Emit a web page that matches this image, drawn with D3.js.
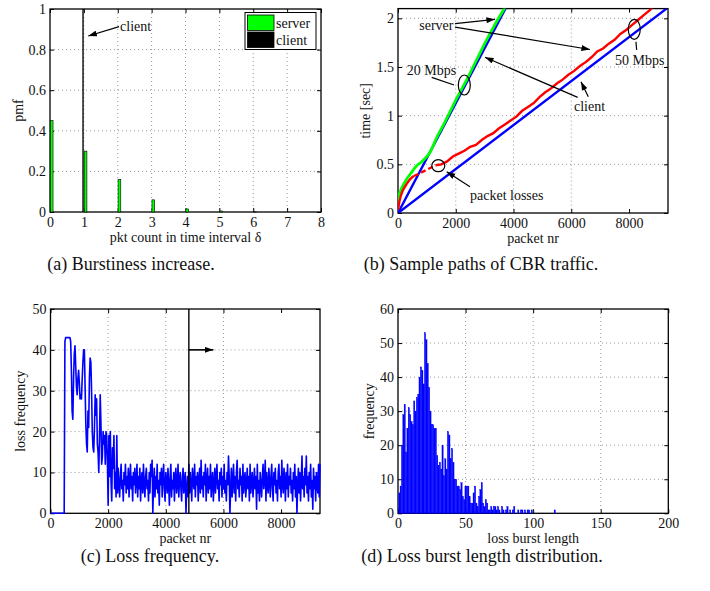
<!DOCTYPE html>
<html>
<head>
<meta charset="utf-8">
<script src="https://cdn.jsdelivr.net/npm/d3@7/dist/d3.min.js"></script>
<style>
  body { margin: 0; background: #fff; }
  text { font-family: "Liberation Serif", "Times New Roman", serif; fill: #111; }
</style>
</head>
<body>
<svg id="fig" width="710" height="591"></svg>
<script>
// ---- (a) pmf of packet count per interval
const pktCounts = [0, 1, 2, 3, 4, 5, 6, 7, 8];
const serverPmf = [0.45, 0.30, 0.16, 0.06, 0.015, 0.005, 0.001, 0, 0];
const clientPmf = [0, 1, 0, 0, 0, 0, 0, 0, 0];
const legendLabels = ["server", "client"];

// ---- (b) sample paths (packet nr, time in sec)
const client20 = [[0, 0], [3720, 2.1]];
const client50 = [[0, 0], [9300, 2.1]];
const server20 = [[0, 0.12], [50, 0.2], [120, 0.25], [200, 0.3], [300, 0.35], [400, 0.39], [500, 0.43],
  [600, 0.47], [700, 0.5], [800, 0.52], [900, 0.55], [1000, 0.58], [1100, 0.62], [1200, 0.68],
  [1300, 0.75], [1400, 0.81], [1600, 0.92], [1800, 1.04], [2000, 1.16], [2200, 1.27], [2400, 1.38],
  [2600, 1.5], [2800, 1.62], [3000, 1.74], [3200, 1.85], [3400, 1.96], [3600, 2.06], [3700, 2.11]];
const server50 = [[0, 0.03], [50, 0.12], [100, 0.18], [150, 0.22], [200, 0.25], [300, 0.3], [400, 0.34],
  [500, 0.37], [550, 0.38]];
const server50Loss = [[550, 0.38], [700, 0.4], [900, 0.43], [1100, 0.46], [1300, 0.49]];
const server50Rest = [[1300, 0.49], [1500, 0.5], [1700, 0.53], [1900, 0.58], [2100, 0.61], [2300, 0.64],
  [2500, 0.68], [2700, 0.7], [2900, 0.75], [3100, 0.79], [3300, 0.82], [3500, 0.87], [3700, 0.91],
  [3900, 0.95], [4100, 0.99], [4300, 1.05], [4500, 1.09], [4700, 1.13], [4900, 1.19], [5100, 1.24],
  [5300, 1.28], [5500, 1.33], [5700, 1.37], [5900, 1.42], [6100, 1.46], [6300, 1.51], [6500, 1.55],
  [6700, 1.6], [6900, 1.66], [7100, 1.69], [7300, 1.74], [7500, 1.78], [7700, 1.84], [7900, 1.88],
  [8100, 1.93], [8300, 1.98], [8500, 2.03], [8700, 2.08], [8800, 2.11]];

// ---- (c) loss frequency, one value every lossStep packets
const lossStep = 25;
const lossFreq = [
  0, 0, 0, 0, 0, 0, 0, 0, 0, 0, 0, 0, 0, 0, 0, 0, 0, 0, 0, 0,
  42, 43, 43, 43, 43, 43, 43, 43, 42,
  35, 25, 23, 33, 39, 41, 36, 31, 29, 33, 35, 32, 28, 29, 28, 33, 37, 40, 40, 31,
  22, 17, 15, 25, 21, 33, 38, 37, 30, 20, 16, 15, 21, 29, 24, 28, 17, 15, 10, 19,
  29, 22, 12, 14, 20, 17, 19, 12, 20, 19, 12, 2, 19, 9, 20, 8, 3, 16, 11, 19, 6, 10, 4, 19,
  5, 11, 7, 4, 9, 12, 6, 8, 3, 10, 7, 12, 5, 9, 6, 11, 4, 8, 12, 6,
  9, 3, 10, 7, 11, 5, 8, 12, 4, 9, 6, 11, 3, 8, 10, 5, 12, 7, 4, 9,
  11, 6, 8, 3, 10, 5, 12, 9, 13, 0, 7, 11, 4, 9, 6, 12, 5, 8, 2, 10,
  7, 11, 4, 9, 12, 6, 3, 10, 8, 5, 11, 7, 2, 9, 12, 4, 8, 6, 10, 3,
  9, 11, 5, 7, 12, 4, 8, 10, 6, 3, 9, 11, 5, 8, 10, 0, 6, 9, 4, 12,
  5, 10, 7, 3, 11, 8, 6, 12, 4, 9, 7, 10, 3, 8, 11, 5, 13, 6, 9, 4,
  10, 7, 12, 3, 8, 11, 5, 9, 6, 12, 4, 8, 10, 3, 7, 11, 5, 9, 12, 6,
  8, 3, 10, 7, 11, 4, 9, 6, 12, 5, 8, 3, 10, 7, 14, 9, 0, 6, 11, 4,
  8, 12, 5, 9, 3, 10, 13, 6, 8, 4, 11, 7, 9, 3, 12, 5, 8, 10, 4, 7,
  11, 6, 9, 3, 12, 5, 8, 10, 4, 7, 11, 6, 9, 1, 12, 5, 8, 3, 10, 7,
  4, 9, 12, 6, 8, 13, 3, 10, 7, 5, 11, 8, 4, 9, 12, 6, 3, 10, 7, 11,
  5, 8, 3, 10, 12, 6, 9, 4, 13, 7, 5, 11, 8, 3, 10, 6, 12, 4, 9, 7,
  11, 5, 8, 3, 10, 6, 12, 4, 9, 0, 7, 11, 5, 10, 3, 8, 14, 6, 9, 4,
  11, 7, 14, 5, 9, 3, 10, 6, 12, 4, 8, 1, 11, 6, 9, 3, 10, 7, 5, 12, 4, 12
];
const markerPacket = 4800;

// ---- (d) loss burst length histogram (length 1..116)
const burstCounts = [
  6, 8, 20, 29, 32, 18, 25, 31, 29, 27, 26, 33, 30, 34, 35, 40, 43, 42, 38, 53,
  51, 44, 37, 30, 26, 26, 25, 25, 17, 14, 15, 13, 20, 11, 16, 13, 24, 23, 16, 19,
  15, 10, 10, 8, 8, 7, 9, 5, 4, 8, 8, 8, 5, 3, 3, 6, 8, 3, 2, 5,
  7, 9, 3, 2, 4, 3, 1, 1, 2, 1, 2, 2, 1, 2, 1, 0, 2, 1, 0, 1,
  2, 0, 1, 0, 1, 2, 0, 0, 1, 0, 1, 1, 0, 1, 0, 1, 1, 0, 1, 0,
  0, 0, 0, 0, 0, 0, 0, 0, 0, 0, 0, 0, 0, 0, 0, 1
];

const captions = ["(a) Burstiness increase.", "(b) Sample paths of CBR traffic.",
  "(c) Loss frequency.", "(d) Loss burst length distribution."];

const svg = d3.select("#fig");

// arrow head
svg.append("defs").append("marker")
  .attr("id", "arr")
  .attr("viewBox", "0 0 10 7")
  .attr("refX", 10).attr("refY", 3.5)
  .attr("markerWidth", 9).attr("markerHeight", 6)
  .attr("markerUnits", "userSpaceOnUse")
  .attr("orient", "auto")
  .append("path").attr("d", "M0,0 L10,3.5 L0,7 Z").attr("fill", "#000");

// axes in matlab style: box, inward ticks, dotted grid
function panel(o) {
  const x = d3.scaleLinear().domain(o.xDomain).range([o.left, o.right]);
  const y = d3.scaleLinear().domain(o.yDomain).range([o.bottom, o.top]);
  const g = svg.append("g");

  const grid = g.append("g").attr("stroke", "#999").attr("stroke-dasharray", "1,3").attr("stroke-width", 1);
  grid.selectAll(".gx").data(o.xTicks.slice(1, -1)).join("line")
    .attr("x1", d => x(d)).attr("x2", d => x(d)).attr("y1", o.top).attr("y2", o.bottom);
  grid.selectAll(".gy").data(o.yTicks.filter(d => d > o.yDomain[0] && d < o.yDomain[1])).join("line")
    .attr("y1", d => y(d)).attr("y2", d => y(d)).attr("x1", o.left).attr("x2", o.right);

  g.append("g").attr("transform", `translate(0,${o.bottom})`)
    .call(d3.axisBottom(x).tickValues(o.xTicks).tickSize(-4).tickPadding(5).tickFormat(o.xFmt || d3.format("d")))
    .call(a => a.select(".domain").remove())
    .selectAll("text").style("font-size", "14px").style("font-family", "Liberation Serif");
  g.append("g").attr("transform", `translate(${o.left},0)`)
    .call(d3.axisLeft(y).tickValues(o.yTicks).tickSize(-4).tickPadding(4).tickFormat(o.yFmt || d3.format("d")))
    .call(a => a.select(".domain").remove())
    .selectAll("text").style("font-size", "14px").style("font-family", "Liberation Serif");
  g.append("g").attr("transform", `translate(0,${o.top})`)
    .call(d3.axisTop(x).tickValues(o.xTicks).tickSize(-4).tickFormat(""))
    .call(a => a.select(".domain").remove());
  g.append("g").attr("transform", `translate(${o.right},0)`)
    .call(d3.axisRight(y).tickValues(o.yTicks).tickSize(-4).tickFormat(""))
    .call(a => a.select(".domain").remove());

  g.append("rect").attr("x", o.left).attr("y", o.top)
    .attr("width", o.right - o.left).attr("height", o.bottom - o.top)
    .attr("fill", "none").attr("stroke", "#000").attr("stroke-width", 1.3);

  g.append("text").text(o.xLabel).attr("x", (o.left + o.right) / 2).attr("y", o.bottom + 30)
    .attr("text-anchor", "middle").style("font-size", "14px");
  g.append("text").text(o.yLabel)
    .attr("transform", `translate(${o.yLabelX},${(o.top + o.bottom) / 2}) rotate(-90)`)
    .attr("text-anchor", "middle").style("font-size", "14px");

  g.append("text").text(o.caption).attr("x", o.capX).attr("y", o.capY)
    .attr("text-anchor", "middle").style("font-size", "18px");
  return { g, x, y };
}

const line = (x, y) => d3.line().x(d => x(d[0])).y(d => y(d[1]));

function arrow(g, x1, y1, x2, y2, head = true) {
  g.append("line").attr("x1", x1).attr("y1", y1).attr("x2", x2).attr("y2", y2)
    .attr("stroke", "#000").attr("stroke-width", 1.2)
    .attr("marker-end", head ? "url(#arr)" : null);
}

// ---------------- (a)
{
  const { g, x, y } = panel({
    left: 50, right: 321, top: 9, bottom: 212,
    xDomain: [0, 8], yDomain: [0, 1],
    xTicks: pktCounts, yTicks: [0, 0.2, 0.4, 0.6, 0.8, 1],
    yFmt: d => d === 0 || d === 1 ? String(d) : d.toFixed(1),
    xLabel: "pkt count in time interval δ", yLabel: "pmf", yLabelX: 23,
    caption: captions[0], capX: 131, capY: 270
  });
  g.selectAll(".srv").data(pktCounts.filter((d, i) => serverPmf[i] > 0)).join("rect")
    .attr("x", d => x(d + 0.01)).attr("width", x(0.08) - x(0))
    .attr("y", d => y(serverPmf[d])).attr("height", d => y(0) - y(serverPmf[d]))
    .attr("fill", "#00ff00").attr("stroke", "#000").attr("stroke-width", 0.6);
  g.selectAll(".cli").data(pktCounts.filter((d, i) => clientPmf[i] > 0)).join("rect")
    .attr("x", d => x(d - 0.045)).attr("width", x(0.04) - x(0))
    .attr("y", d => y(clientPmf[d])).attr("height", d => y(0) - y(clientPmf[d]))
    .attr("fill", "#000");

  // annotation
  arrow(g, x(2.04), y(0.913), x(1.13), y(0.867));
  g.append("text").text("client").attr("x", x(2.07)).attr("y", y(0.89)).style("font-size", "14px");

  // legend
  const lg = g.append("g");
  lg.append("rect").attr("x", 245).attr("y", 12.5).attr("width", 71).attr("height", 37)
    .attr("fill", "#fff").attr("stroke", "#000").attr("stroke-width", 1);
  lg.selectAll(".sw").data(legendLabels).join("rect")
    .attr("x", 247.5).attr("y", (d, i) => 15 + i * 17).attr("width", 26.5).attr("height", 15.5)
    .attr("fill", (d, i) => i === 0 ? "#00ff00" : "#000").attr("stroke", "#000").attr("stroke-width", 0.8);
  lg.selectAll(".lt").data(legendLabels).join("text").text(d => d)
    .attr("x", 276).attr("y", (d, i) => 28 + i * 17).style("font-size", "14px");
}

// ---------------- (b)
{
  const { g, x, y } = panel({
    left: 398, right: 668, top: 8.6, bottom: 213,
    xDomain: [0, 9350], yDomain: [0, 2.1],
    xTicks: [0, 2000, 4000, 6000, 8000], yTicks: [0, 0.5, 1, 1.5, 2],
    yFmt: d => String(d),
    xLabel: "packet nr", yLabel: "time [sec]", yLabelX: 370,
    caption: captions[1], capX: 481, capY: 270
  });
  g.append("clipPath").attr("id", "clipB").append("rect")
    .attr("x", 398).attr("y", 8.6).attr("width", 270).attr("height", 204.4);
  const dg = g.append("g").attr("clip-path", "url(#clipB)");
  const ln = line(x, y);
  [client20, client50].forEach(s => dg.append("path").attr("d", ln(s))
    .attr("fill", "none").attr("stroke", "#0000ff").attr("stroke-width", 2.4));
  dg.append("path").attr("d", ln(server20)).attr("fill", "none").attr("stroke", "#00ff00").attr("stroke-width", 2.8);
  dg.append("path").attr("d", ln(server50)).attr("fill", "none").attr("stroke", "#ff0000").attr("stroke-width", 2.4);
  dg.append("path").attr("d", ln(server50Loss)).attr("fill", "none").attr("stroke", "#ff0000")
    .attr("stroke-width", 2.4).attr("stroke-dasharray", "5,3");
  dg.append("path").attr("d", ln(server50Rest)).attr("fill", "none").attr("stroke", "#ff0000").attr("stroke-width", 2.4);

  // annotations
  g.append("text").text("server").attr("x", x(738)).attr("y", y(1.88)).style("font-size", "14px");
  arrow(g, x(1974), y(1.945), x(3359), y(1.99));
  arrow(g, x(1974), y(1.91), x(6648), y(1.68));
  g.append("text").text("client").attr("x", x(6094)).attr("y", y(1.043)).style("font-size", "14px");
  arrow(g, x(6222), y(1.188), x(3012), y(1.6));
  arrow(g, x(6590), y(1.195), x(6337), y(1.349));
  g.append("text").text("20 Mbps").attr("x", x(301)).attr("y", y(1.418)).style("font-size", "14px");
  arrow(g, x(1167), y(1.394), x(1939), y(1.315), false);
  g.append("ellipse").attr("cx", x(2296)).attr("cy", y(1.315)).attr("rx", 6).attr("ry", 10)
    .attr("fill", "none").attr("stroke", "#000").attr("stroke-width", 1.2);
  g.append("text").text("50 Mbps").attr("x", x(7514)).attr("y", y(1.52)).style("font-size", "14px");
  arrow(g, x(8241), y(1.76), x(8265), y(1.674), false);
  g.append("ellipse").attr("cx", x(8182)).attr("cy", y(1.887)).attr("rx", 6).attr("ry", 10)
    .attr("fill", "none").attr("stroke", "#000").attr("stroke-width", 1.2);
  g.append("text").text("packet losses").attr("x", x(2493)).attr("y", y(0.134)).style("font-size", "14px");
  arrow(g, x(2493), y(0.27), x(1686), y(0.424));
  g.append("ellipse").attr("cx", x(1395)).attr("cy", y(0.486)).attr("rx", 6.5).attr("ry", 6)
    .attr("fill", "none").attr("stroke", "#000").attr("stroke-width", 1.2);
}

// ---------------- (c)
{
  const { g, x, y } = panel({
    left: 50.5, right: 320, top: 309, bottom: 513.3,
    xDomain: [0, 9350], yDomain: [0, 50],
    xTicks: [0, 2000, 4000, 6000, 8000], yTicks: [0, 10, 20, 30, 40, 50],
    xLabel: "packet nr", yLabel: "loss frequency", yLabelX: 25,
    caption: captions[2], capX: 150, capY: 562
  });
  const pts = lossFreq.map((v, i) => [i * lossStep, v]);
  g.append("path").attr("d", line(x, y)(pts)).attr("fill", "none")
    .attr("stroke", "#0000ff").attr("stroke-width", 1.6).attr("stroke-linejoin", "round");
  g.append("line").attr("x1", x(markerPacket)).attr("x2", x(markerPacket))
    .attr("y1", y(0)).attr("y2", y(50)).attr("stroke", "#000").attr("stroke-width", 1.4);
  g.append("line").attr("x1", x(markerPacket)).attr("x2", x(5650))
    .attr("y1", y(40)).attr("y2", y(40)).attr("stroke", "#000").attr("stroke-width", 1.6)
    .attr("marker-end", "url(#arr)");
}

// ---------------- (d)
{
  const { g, x, y } = panel({
    left: 398, right: 668.3, top: 309, bottom: 513.3,
    xDomain: [0, 200], yDomain: [0, 60],
    xTicks: [0, 50, 100, 150, 200], yTicks: [0, 10, 20, 30, 40, 50, 60],
    xLabel: "loss burst length", yLabel: "frequency", yLabelX: 374,
    caption: captions[3], capX: 482, capY: 562
  });
  g.selectAll(".bar").data(burstCounts.map((v, i) => ({ k: i + 1, v })).filter(d => d.v > 0)).join("rect")
    .attr("x", d => x(d.k - 0.5)).attr("width", x(1) - x(0))
    .attr("y", d => y(d.v)).attr("height", d => y(0) - y(d.v))
    .attr("fill", "#0000ff").attr("stroke", "#0000ff").attr("stroke-width", 0.3);
}
</script>
</body>
</html>
